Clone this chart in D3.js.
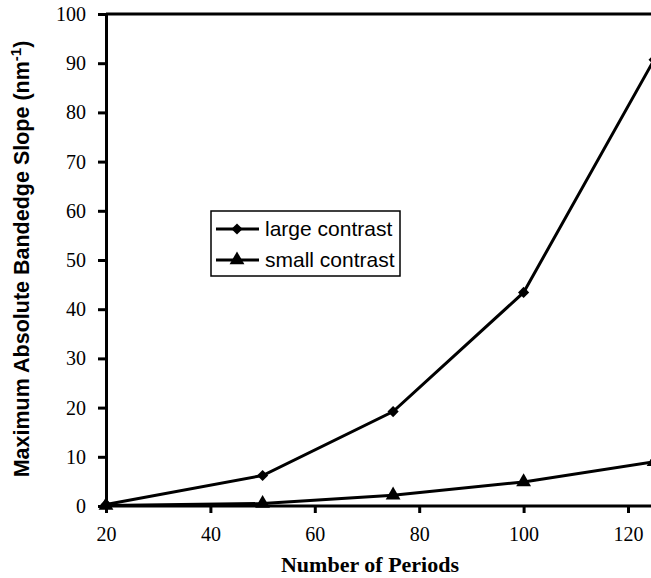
<!DOCTYPE html>
<html lang="en">
<head>
<meta charset="utf-8">
<title>Bandedge slope vs periods</title>
<script src="https://cdn.jsdelivr.net/npm/d3@7/dist/d3.min.js"></script>
<style>
body { margin:0; background:#fff; }
.axis path, .axis line { stroke:#000; stroke-width:3px; }
</style>
</head>
<body>
<svg id="chart" width="651" height="578"></svg>
<script>
// data
var periods = [20, 50, 75, 100, 125];
var largeContrast = [0.3, 6.2, 19.2, 43.4, 90.7];
var smallContrast = [0.1, 0.5, 2.2, 4.9, 9.0];
var xTicks = [20, 40, 60, 80, 100, 120];
var yTicks = [0, 10, 20, 30, 40, 50, 60, 70, 80, 90, 100];

var svg = d3.select("#chart");
var margin = {left: 106, top: 14, bottom: 72};
var height = 578 - margin.top - margin.bottom;

// 20 -> 106, 120 -> 628 ; plot runs past the right edge
var x = d3.scaleLinear().domain([20, 120]).range([0, 522]);
var y = d3.scaleLinear().domain([0, 100]).range([height, 0]);

var g = svg.append("g").attr("transform", "translate(" + margin.left + "," + margin.top + ")");

// top frame
g.append("line")
  .attr("x1", 0).attr("x2", 651).attr("y1", 0).attr("y2", 0)
  .attr("stroke", "#000").attr("stroke-width", 3);

var xAxis = g.append("g").attr("class", "axis")
  .attr("transform", "translate(0," + height + ")")
  .call(d3.axisBottom(x).tickValues(xTicks).tickSize(7).tickSizeOuter(0).tickPadding(14).tickFormat(d3.format("d")));
xAxis.select(".domain").attr("d", "M0,0H" + 651);

var yAxis = g.append("g").attr("class", "axis")
  .call(d3.axisLeft(y).tickValues(yTicks).tickSize(8).tickSizeOuter(0).tickPadding(12).tickFormat(d3.format("d")));

[xAxis, yAxis].forEach(function(a) {
  a.attr("font-family", "Liberation Serif").attr("font-size", 20);
  a.selectAll(".tick text").attr("fill", "#000");
});

var line = d3.line()
  .x(function(d) { return x(d[0]); })
  .y(function(d) { return y(d[1]); });

var large = periods.map(function(p, i) { return [p, largeContrast[i]]; });
var small = periods.map(function(p, i) { return [p, smallContrast[i]]; });

var diamond = d3.symbol().type(d3.symbolDiamond2).size(80);
var triangle = d3.symbol().type(d3.symbolTriangle).size(95);

[[small, triangle], [large, diamond]].forEach(function(s) {
  g.append("path").datum(s[0])
    .attr("d", line).attr("fill", "none")
    .attr("stroke", "#000").attr("stroke-width", 3);
  g.selectAll(null).data(s[0]).enter().append("path")
    .attr("d", s[1])
    .attr("transform", function(d) { return "translate(" + x(d[0]) + "," + y(d[1]) + ")"; })
    .attr("fill", "#000");
});

// axis titles
svg.append("text")
  .attr("x", 370).attr("y", 572)
  .attr("text-anchor", "middle")
  .attr("font-family", "Liberation Serif").attr("font-weight", "bold").attr("font-size", 22)
  .text("Number of Periods");

var yt = svg.append("text")
  .attr("transform", "translate(29,259) rotate(-90)")
  .attr("text-anchor", "middle")
  .attr("font-family", "Liberation Sans").attr("font-weight", "bold").attr("font-size", 21.5);
yt.append("tspan").text("Maximum Absolute Bandedge Slope (nm");
yt.append("tspan").attr("dy", -8).attr("font-size", 15).text("-1");
yt.append("tspan").attr("dy", 8).text(")");

// legend
var leg = svg.append("g").attr("transform", "translate(211,211)");
leg.append("rect").attr("width", 189).attr("height", 65)
  .attr("fill", "#fff").attr("stroke", "#000").attr("stroke-width", 1.5);
var legItems = [["large contrast", diamond], ["small contrast", triangle]];
legItems.forEach(function(it, i) {
  var yy = 18 + i * 31;
  leg.append("line").attr("x1", 5).attr("x2", 48).attr("y1", yy).attr("y2", yy)
    .attr("stroke", "#000").attr("stroke-width", 3);
  leg.append("path").attr("d", it[1]).attr("transform", "translate(26," + yy + ")");
  leg.append("text").attr("x", 54).attr("y", yy + 7)
    .attr("font-family", "Liberation Sans").attr("font-size", 21)
    .text(it[0]);
});
</script>
</body>
</html>
